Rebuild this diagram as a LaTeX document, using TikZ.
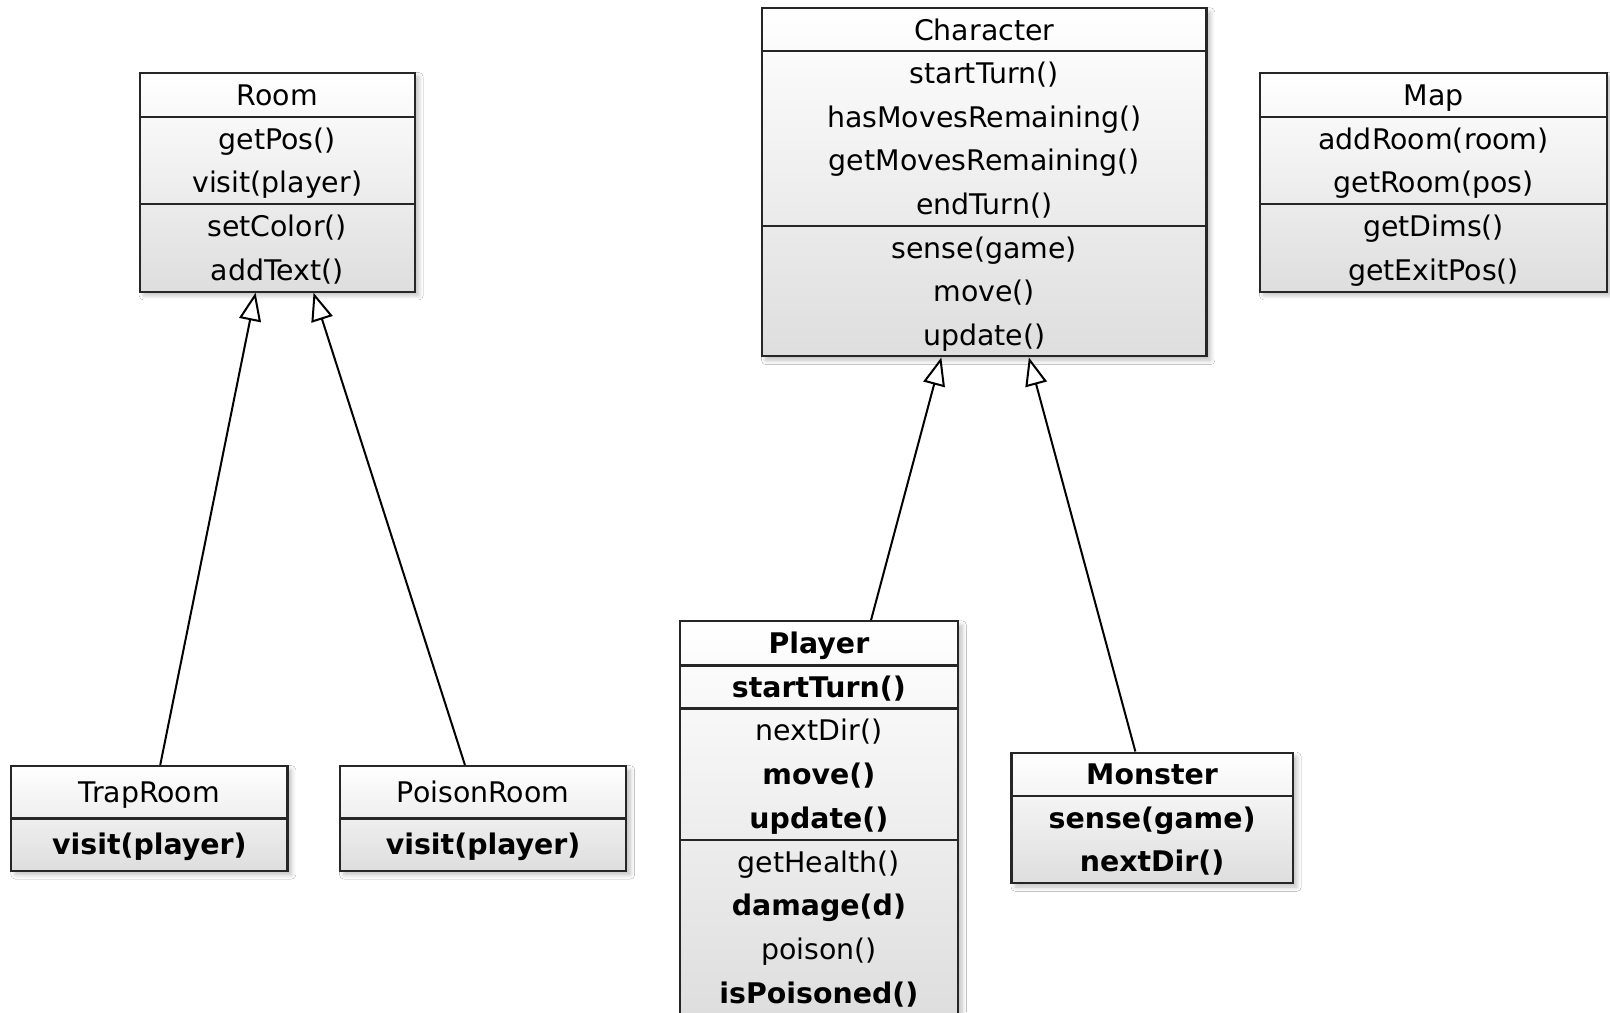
\documentclass[tikz,border=0pt]{standalone}
\usepackage{fontspec}
\setmainfont{DejaVu Sans}
\usetikzlibrary{arrows.meta,fit,calc,shadows.blur}
\begin{document}
\begin{tikzpicture}[x=0.5pt,y=-0.5pt,
  classbox/.style={draw=black!85, line width=1.1pt, inner sep=0pt, top color=white, bottom color=black!13,
    blur shadow={shadow xshift=2pt, shadow yshift=-2pt, shadow blur steps=6, shadow opacity=25}},
  txt/.style={font=\fontsize{14.2}{17}\selectfont, text height=10.4pt, text depth=0pt, inner sep=0pt, anchor=center},
  btxt/.style={txt, font=\fontsize{14.2}{17}\selectfont\bfseries},
  divider/.style={line width=1.1pt, draw=black!85},
  inherit/.style={line width=1pt, -{Triangle[fill=white, length=14pt, width=11pt, line width=1pt]}}
]
\useasboundingbox[fill=white] (0,0) rectangle (1610,1012);

% ---------- Room ----------
\node[classbox, fit={(139.6,72.9) (414.8,291.6)}] (room) {};
\draw[divider] (139.6,117) -- (414.8,117);
\draw[divider] (139.6,204.3) -- (414.8,204.3);
\node[txt] (room-h) at (277.2,95) {Room};
\node[txt] (room-1) at (277.2,138.8) {getPos()};
\node[txt] (room-2) at (277.2,182.5) {visit(player)};
\node[txt] (room-3) at (277.2,226.1) {setColor()};
\node[txt] (room-4) at (277.2,269.8) {addText()};

% ---------- Character ----------
\node[classbox, fit={(761.9,8.2) (1206.5,356.3)}] (char) {};
\draw[divider] (761.9,51.3) -- (1206.5,51.3);
\draw[divider] (761.9,225.9) -- (1206.5,225.9);
\node[txt] (char-h) at (984.2,29.8) {Character};
\node[txt] (char-1) at (984.2,73.1) {startTurn()};
\node[txt] (char-2) at (984.2,116.8) {hasMovesRemaining()};
\node[txt] (char-3) at (984.2,160.4) {getMovesRemaining()};
\node[txt] (char-4) at (984.2,204.1) {endTurn()};
\node[txt] (char-5) at (984.2,247.6) {sense(game)};
\node[txt] (char-6) at (984.2,291.1) {move()};
\node[txt] (char-7) at (984.2,334.6) {update()};

% ---------- Map ----------
\node[classbox, fit={(1259.9,72.9) (1607,291.6)}] (map) {};
\draw[divider] (1259.9,117) -- (1607,117);
\draw[divider] (1259.9,204.3) -- (1607,204.3);
\node[txt] (map-h) at (1433.5,95) {Map};
\node[txt] (map-1) at (1433.5,138.8) {addRoom(room)};
\node[txt] (map-2) at (1433.5,182.5) {getRoom(pos)};
\node[txt] (map-3) at (1433.5,226.1) {getDims()};
\node[txt] (map-4) at (1433.5,269.8) {getExitPos()};

% ---------- TrapRoom ----------
\node[classbox, fit={(11.3,766) (287.5,870.7)}] (trap) {};
\draw[divider] (11.3,818.4) -- (287.5,818.4);
\node[txt] (trap-h) at (149.4,792.2) {TrapRoom};
\node[btxt] (trap-1) at (149.4,844.5) {visit(player)};

% ---------- PoisonRoom ----------
\node[classbox, fit={(339.9,766) (626.3,870.7)}] (poison) {};
\draw[divider] (339.9,818.4) -- (626.3,818.4);
\node[txt] (poison-h) at (483.1,792.2) {PoisonRoom};
\node[btxt] (poison-1) at (483.1,844.5) {visit(player)};

% ---------- Player ----------
\node[classbox, fit={(679.7,621.2) (958,1015)}] (player) {};
\draw[divider] (679.7,665.4) -- (958,665.4);
\draw[divider] (679.7,708.5) -- (958,708.5);
\draw[divider] (679.7,839.9) -- (958,839.9);
\node[btxt] (player-h) at (818.9,643.3) {Player};
\node[btxt] (player-1) at (818.9,687) {startTurn()};
\node[txt]  (player-2) at (818.9,730.4) {nextDir()};
\node[btxt] (player-3) at (818.9,774.2) {move()};
\node[btxt] (player-4) at (818.9,818.1) {update()};
\node[txt]  (player-5) at (818.9,861.8) {getHealth()};
\node[btxt] (player-6) at (818.9,905.5) {damage(d)};
\node[txt]  (player-7) at (818.9,949.3) {poison()};
\node[btxt] (player-8) at (818.9,993) {isPoisoned()};

% ---------- Monster ----------
\node[classbox, fit={(1011.4,752.6) (1292.8,883)}] (monster) {};
\draw[divider] (1011.4,795.8) -- (1292.8,795.8);
\node[btxt] (monster-h) at (1152.1,774.2) {Monster};
\node[btxt] (monster-1) at (1152.1,817.6) {sense(game)};
\node[btxt] (monster-2) at (1152.1,861.2) {nextDir()};

% ---------- Inheritance ----------
\draw[inherit] ($(trap.north west)!0.539!(trap.north east)$) -- ($(room.south west)!0.422!(room.south east)$);
\draw[inherit] ($(poison.north west)!0.437!(poison.north east)$) -- ($(room.south west)!0.631!(room.south east)$);
\draw[inherit] ($(player.north west)!0.686!(player.north east)$) -- ($(char.south west)!0.404!(char.south east)$);
\draw[inherit] ($(monster.north west)!0.441!(monster.north east)$) -- ($(char.south west)!0.600!(char.south east)$);
\end{tikzpicture}
\end{document}
